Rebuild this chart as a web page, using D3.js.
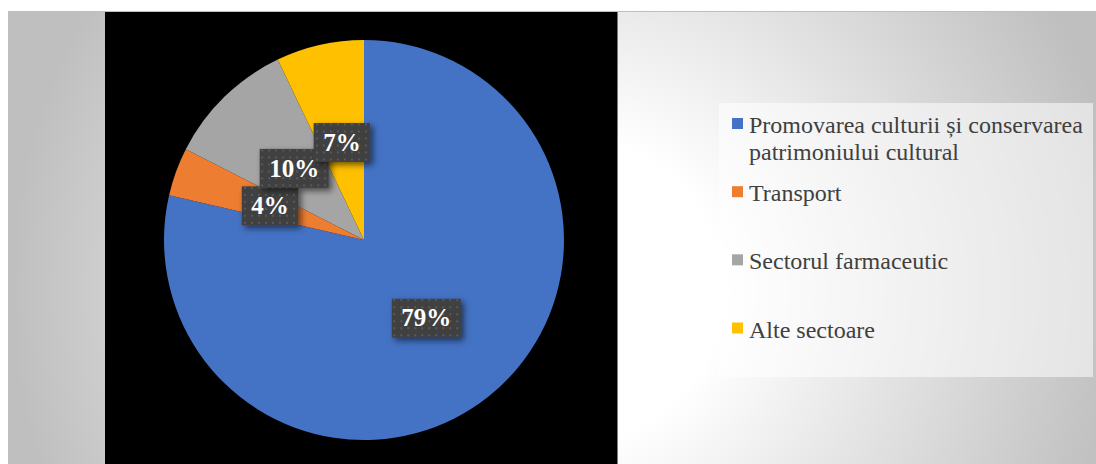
<!DOCTYPE html>
<html>
<head>
<meta charset="utf-8">
<script src="https://cdn.jsdelivr.net/npm/d3@7"></script>
<style>
  html, body { margin: 0; padding: 0; background: #fff; }
  svg { display: block; }
</style>
</head>
<body>
<div id="chart"></div>
<script>
// ---- Data ----
const categories = [
  'Promovarea culturii și conservarea patrimoniului cultural',
  'Transport',
  'Sectorul farmaceutic',
  'Alte sectoare'
];
const shares = [78.6, 3.9, 10.4, 7.1];   // percent
const colors = ['#4472c4', '#ed7d31', '#a5a5a5', '#ffc000'];

const W = 1096, H = 464;
const serif = '"Liberation Serif", "Times New Roman", serif';
const svg = d3.select('#chart').append('svg').attr('width', W).attr('height', H);
const defs = svg.append('defs');

// ---- Background gradient (white near the middle, grey to the sides) ----
const bg = defs.append('radialGradient')
  .attr('id', 'bgGrad').attr('gradientUnits', 'userSpaceOnUse')
  .attr('cx', 570).attr('cy', 290).attr('r', 560);
bg.append('stop').attr('offset', '0.27').attr('stop-color', '#ffffff');
bg.append('stop').attr('offset', '1').attr('stop-color', '#bfbfbf');

// dotted pattern for data label boxes
const pat = defs.append('pattern')
  .attr('id', 'dots').attr('patternUnits', 'userSpaceOnUse')
  .attr('width', 7).attr('height', 7);
pat.append('rect').attr('width', 7).attr('height', 7).attr('fill', '#404040');
pat.append('rect').attr('x', 2).attr('y', 2).attr('width', 2).attr('height', 2).attr('fill', '#595959');

const shadow = defs.append('filter').attr('id', 'shadow')
  .attr('x', '-30%').attr('y', '-30%').attr('width', '160%').attr('height', '160%');
shadow.append('feDropShadow').attr('dx', 3).attr('dy', 3).attr('stdDeviation', 3)
  .attr('flood-color', '#000').attr('flood-opacity', 0.55);

// chart area
svg.append('rect').attr('x', 8).attr('y', 11).attr('width', W - 8).attr('height', H)
  .attr('fill', 'url(#bgGrad)');
svg.append('line').attr('x1', 8).attr('x2', W).attr('y1', 11.5).attr('y2', 11.5)
  .attr('stroke', '#bdbdbd').attr('stroke-width', 1);

// plot area
svg.append('rect').attr('x', 105).attr('y', 12).attr('width', 512.5).attr('height', H)
  .attr('fill', '#000');

// ---- Pie ----
const cx = 364, cy = 240, R = 200;
const pie = d3.pie().sort(null).value(d => d);
const arcs = pie(shares);
const arc = d3.arc().innerRadius(0).outerRadius(R);

const g = svg.append('g').attr('transform', `translate(${cx},${cy})`);
g.selectAll('path.slice').data(arcs).join('path')
  .attr('class', 'slice')
  .attr('d', arc)
  .attr('fill', (d, i) => colors[i]);

// ---- Data labels ----
const fmt = d3.format('.0f');
const labelFont = 25;
const labels = g.selectAll('g.lbl').data(arcs).join('g')
  .attr('class', 'lbl')
  .attr('transform', d => `translate(${arc.centroid(d)})`);

labels.each(function (d) {
  const sel = d3.select(this);
  const txt = fmt(d.data) + '%';
  const t = sel.append('text')
    .attr('text-anchor', 'middle')
    .attr('y', labelFont * 0.33)
    .style('font-family', serif)
    .style('font-weight', 'bold')
    .style('font-size', labelFont + 'px')
    .attr('fill', '#fff')
    .text(txt);
  const w = t.node().getComputedTextLength() + 19;
  sel.insert('rect', 'text')
    .attr('x', -w / 2).attr('y', -19.5)
    .attr('width', w).attr('height', 39)
    .attr('fill', 'url(#dots)')
    .attr('filter', 'url(#shadow)');
});

// ---- Legend ----
svg.append('rect').attr('x', 719).attr('y', 103).attr('width', 374).attr('height', 274)
  .attr('fill', '#fff').attr('fill-opacity', 0.55);

const ly = d3.scalePoint().domain(categories).range([133, 337.5]);
const legend = svg.append('g').selectAll('g').data(categories).join('g')
  .attr('transform', d => `translate(732,${ly(d)})`);

legend.append('rect')
  .attr('x', 0).attr('y', -15).attr('width', 11).attr('height', 11)
  .attr('fill', (d, i) => colors[i]);

const legendText = legend.append('text')
  .attr('x', 17)
  .style('font-family', serif)
  .style('font-size', '24px')
  .attr('fill', '#404040');

// wrap long entries onto a second line
legendText.each(function (d) {
  const el = d3.select(this);
  const words = d.split(' ');
  let line = [];
  let tspan = el.append('tspan').attr('x', 17).attr('dy', 0);
  words.forEach(word => {
    line.push(word);
    tspan.text(line.join(' '));
    if (tspan.node().getComputedTextLength() > 345 && line.length > 1) {
      line.pop();
      tspan.text(line.join(' '));
      line = [word];
      tspan = el.append('tspan').attr('x', 17).attr('dy', 27).text(word);
    }
  });
});
</script>
</body>
</html>
